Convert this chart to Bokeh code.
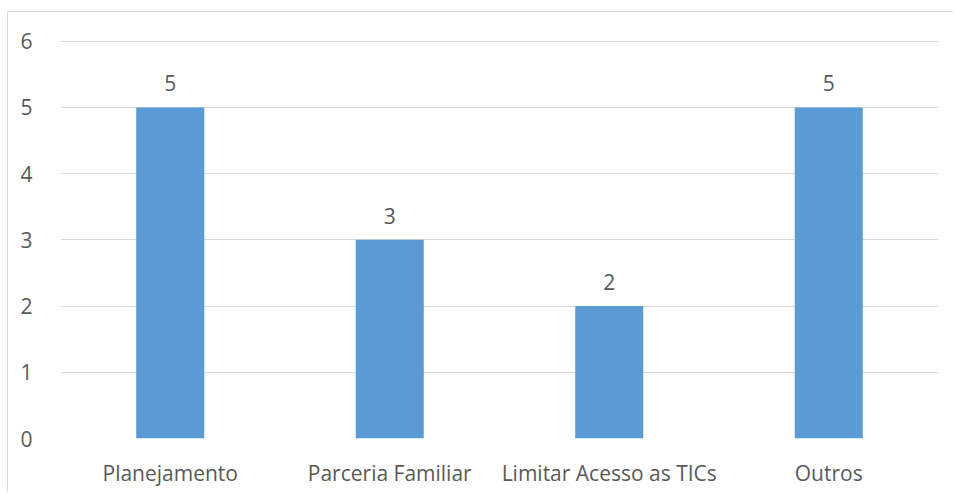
from bokeh.plotting import figure
from bokeh.models import ColumnDataSource, LabelSet, FixedTicker
from bokeh.core.properties import value
from bokeh.embed import file_html
from bokeh.resources import INLINE

categories = ["Planejamento", "Parceria Familiar", "Limitar Acesso as TICs", "Outros"]
values = [5, 3, 2, 5]
y_ticks = [0, 1, 2, 3, 4, 5, 6]

FONT = "Open Sans"
TXT = "#595959"
GRID = "#d9d9d9"
BAR = "#5b9bd5"

src = ColumnDataSource(data=dict(cat=categories, val=values, lbl=[str(v) for v in values]))

p = figure(x_range=categories, y_range=(0, 6.01), width=946, height=481,
           output_backend="svg", toolbar_location=None,
           min_border_left=52, min_border_right=16, min_border_top=28, min_border_bottom=55)
p.margin = (11, 0, 0, 7)
p.styles = {"border-left": "1px solid #d9d9d9", "border-top": "1px solid #d9d9d9"}

p.vbar(x="cat", top="val", width=0.31, source=src, color=BAR, line_color=None)

labels = LabelSet(x="cat", y="val", text="lbl", source=src, text_align="center",
                  text_baseline="bottom", y_offset=16, text_font=value(FONT),
                  text_font_size="21px", text_color=TXT)
p.add_layout(labels)

p.outline_line_color = None
p.background_fill_color = "white"
p.border_fill_color = "white"

p.xgrid.grid_line_color = None
p.ygrid.grid_line_color = GRID
p.ygrid.grid_line_width = 1
p.yaxis.ticker = FixedTicker(ticks=y_ticks)

for ax in (p.xaxis, p.yaxis):
    ax.axis_line_color = None
    ax.major_tick_line_color = None
    ax.minor_tick_line_color = None
    ax.major_label_text_font = FONT
    ax.major_label_text_font_size = "21px"
    ax.major_label_text_color = TXT
p.yaxis.major_label_standoff = 22
p.xaxis.major_label_standoff = 14

open("out.html", "w").write(file_html(p, INLINE))
